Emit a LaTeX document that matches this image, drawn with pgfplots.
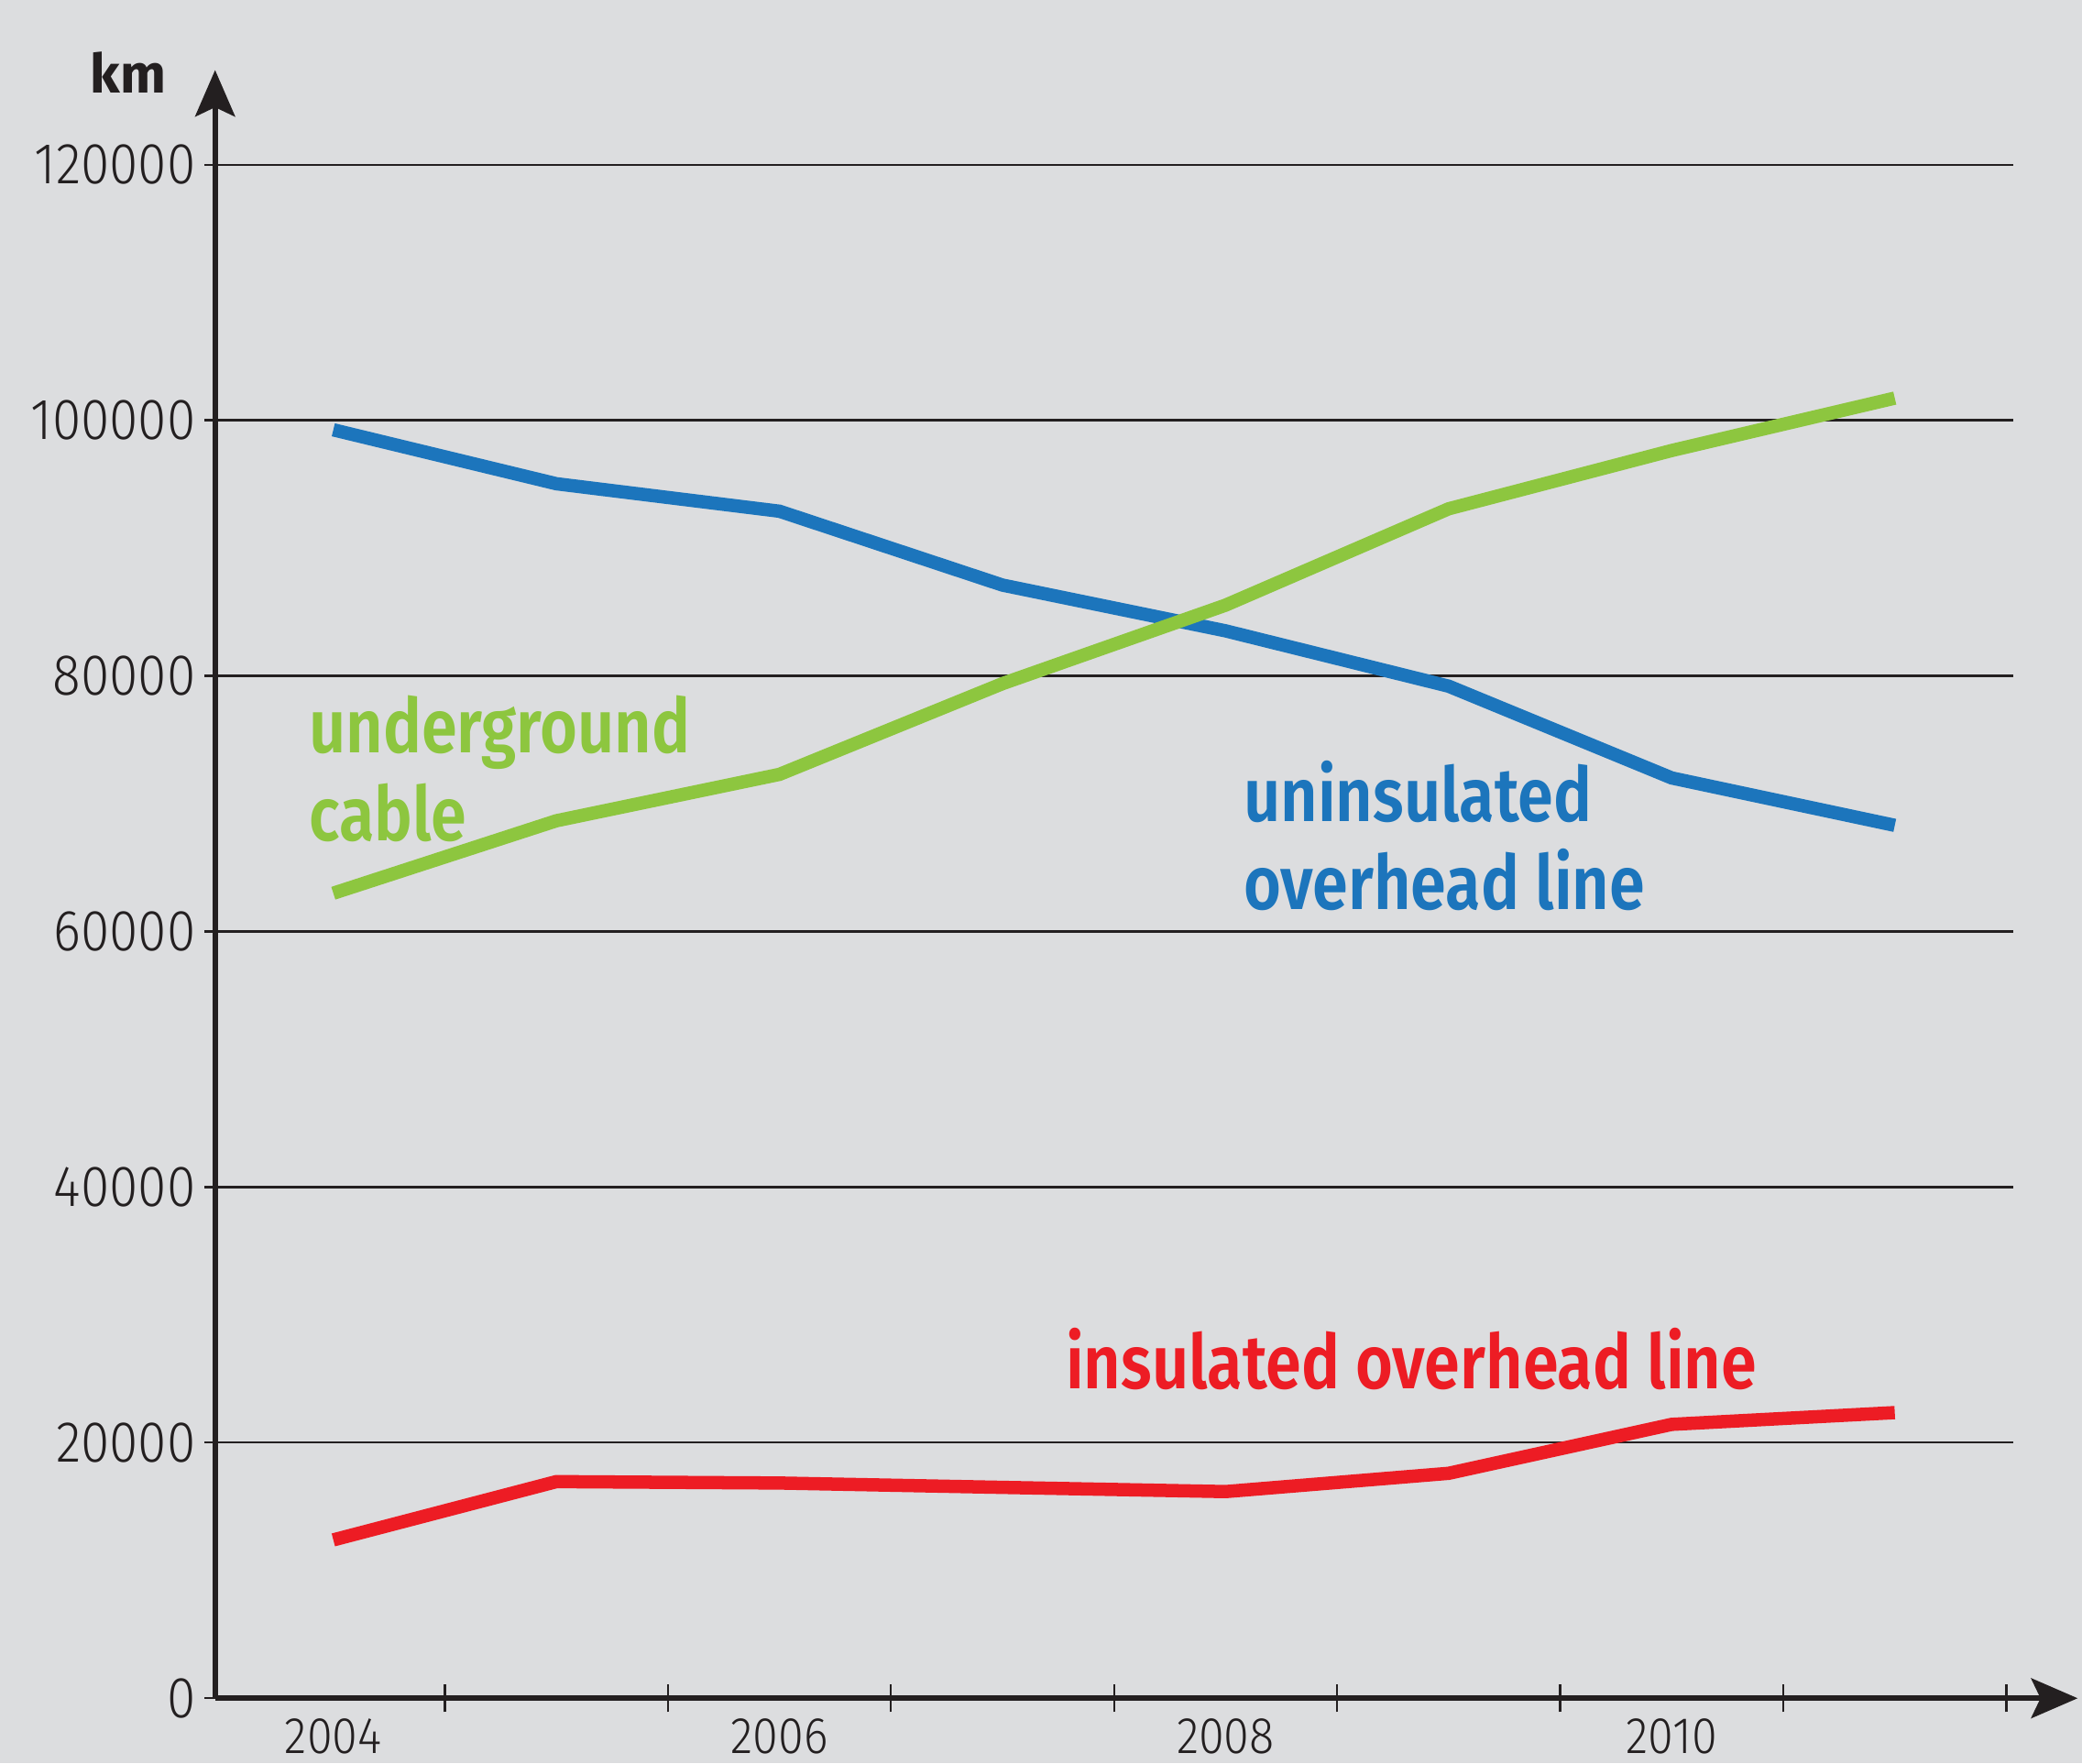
\documentclass[border=0pt]{standalone}
\usepackage{fontspec}
\usepackage{pgfplots}
\pgfplotsset{compat=1.18}
\usetikzlibrary{arrows.meta}
\IfFontExistsTF{Fira Sans Light}{%
  \newfontfamily\tickfont{Fira Sans Light}[FakeStretch=0.9]%
}{%
  \newfontfamily\tickfont{Fira Sans}[FakeStretch=0.9]%
}
\IfFontExistsTF{Fira Sans SemiBold}{%
  \newfontfamily\lblfont{Fira Sans SemiBold}[FakeStretch=0.85]%
}{%
  \newfontfamily\lblfont{Fira Sans}[FakeStretch=0.85,UprightFont=*-Bold]%
}
\newfontfamily\kmfont{Fira Sans}
\definecolor{bgc}{HTML}{DCDDDF}
\definecolor{axc}{HTML}{231F20}
\definecolor{blu}{HTML}{1C75BC}
\definecolor{grn}{HTML}{8DC63F}
\definecolor{rd}{HTML}{ED1C24}
\begin{document}
\begin{tikzpicture}
\path[use as bounding box] (0,0) rectangle (156.8mm,132.8mm);
\clip (0,0) rectangle (156.8mm,132.8mm);
\fill[bgc] (0,0) rectangle (156.8mm,132.8mm);
\begin{axis}[
  at={(16.2mm,4.9mm)}, anchor=south west,
  scale only axis, width=135.4mm, height=115.5mm,
  xmin=2003.47, xmax=2011.53, ymin=0, ymax=120000,
  clip=false,
  scaled y ticks=false,
  axis line style={draw=none},
  xtick pos=bottom, ytick pos=left,
  ytick={0,20000,40000,60000,80000,100000,120000},
  yticklabels={0,20000,40000,60000,80000,100000,120000},
  xtick={2004,2006,2008,2010},
  xticklabels={2004,2006,2008,2010},
  minor xtick={2004.5,2005.5,2006.5,2007.5,2008.5,2009.5,2010.5,2011.5},
  tick align=center,
  major tick length=1.6mm,
  minor tick length=2.1mm,
  major x tick style={draw=none},
  minor x tick style={line width=0.45pt, color=axc},
  major y tick style={line width=0.45pt, color=axc},
  ymajorgrids,
  grid style={line width=0.45pt, color=axc},
  yticklabel style={font=\tickfont\fontsize{12.4pt}{14pt}\selectfont, color=axc, anchor=east, inner sep=0pt, xshift=-0.6mm},
  xticklabel style={font=\tickfont\fontsize{11pt}{13pt}\selectfont, color=axc, anchor=north, inner sep=0pt, yshift=-0.7mm},
  every axis plot/.append style={line width=2.85pt, line join=miter, line cap=butt},
]
\addplot[blu] coordinates {(2004,99250) (2005,95030) (2006,92880) (2007,87100) (2008,83520) (2009,79190) (2010,72010) (2011,68300)};
\addplot[grn] coordinates {(2004,62990) (2005,68660) (2006,72290) (2007,79390) (2008,85530) (2009,93070) (2010,97630) (2011,101730)};
\addplot[rd] coordinates {(2004,12390) (2005,16950) (2006,16840) (2007,16500) (2008,16170) (2009,17600) (2010,21430) (2011,22350)};
\draw[axc, line width=1.1pt, -{Stealth[length=3.5mm,width=3mm,inset=0.7mm]}] (axis cs:2003.47,0) -- (axis cs:2003.47,127400);
\draw[axc, line width=1.1pt, -{Stealth[length=3.5mm,width=3mm,inset=0.7mm]}] (axis cs:2003.47,0) -- (axis cs:2011.82,0);
\end{axis}
\node[font=\kmfont\bfseries\fontsize{11.6pt}{14pt}\selectfont, color=axc, anchor=base, inner sep=0pt] at (9.66mm,125.8mm) {km};
\begin{scope}[every node/.style={font=\lblfont\fontsize{16.2pt}{18pt}\selectfont, anchor=base west, inner sep=0pt}]
\node[grn] at (23.2mm,76.1mm) {underground};
\node[grn] at (23.2mm,69.5mm) {cable};
\node[blu] at (93.6mm,70.9mm) {uninsulated};
\node[blu] at (93.6mm,64.3mm) {overhead line};
\node[rd] at (80.2mm,28.2mm) {insulated overhead line};
\end{scope}
\end{tikzpicture}
\end{document}
